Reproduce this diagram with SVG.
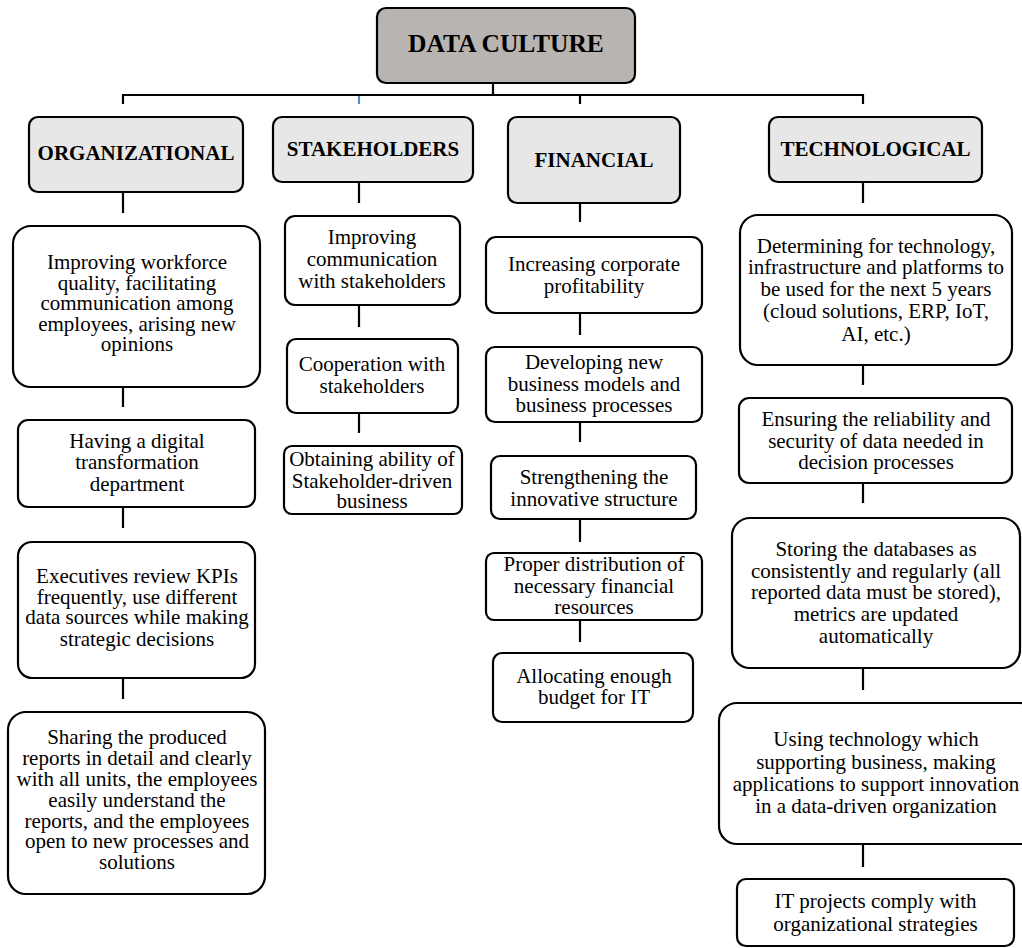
<svg xmlns="http://www.w3.org/2000/svg" width="1022" height="948" viewBox="0 0 1022 948">
<style>
.box{fill:#ffffff;stroke:#000;stroke-width:2.2}
.hdr{fill:#e7e7e7;stroke:#000;stroke-width:2.2}
.root{fill:#b8b4b2;stroke:#000;stroke-width:2.2}
.t{font-family:"Liberation Serif","Times New Roman",serif;font-size:21px;fill:#000;text-anchor:middle}
.h{font-family:"Liberation Serif","Times New Roman",serif;font-size:21px;font-weight:bold;fill:#000;text-anchor:middle}
.r{font-family:"Liberation Serif","Times New Roman",serif;font-size:25.5px;font-weight:bold;fill:#000;text-anchor:middle}
.c{stroke:#000;stroke-width:2.2;fill:none}
.g{stroke:#d6d6d6;stroke-width:2.2;fill:none}
</style>
<rect width="1022" height="948" fill="#ffffff"/>
<g id="connectors">
<line class="g" x1="493" y1="71" x2="493" y2="83"/>
<line class="c" x1="493" y1="83" x2="493" y2="95"/>
<polyline class="c" points="123,104 123,95 863,95 863,104"/>
<line class="c" x1="580" y1="95" x2="580" y2="104"/>
<line x1="359" y1="96" x2="359" y2="104" stroke="#5a8ac6" stroke-width="2.2"/>
<line class="g" x1="123" y1="180" x2="123" y2="192"/><line class="c" x1="123" y1="192" x2="123" y2="213"/>
<line class="g" x1="359" y1="170" x2="359" y2="182"/><line class="c" x1="359" y1="182" x2="359" y2="203"/>
<line class="g" x1="580" y1="191" x2="580" y2="203"/><line class="c" x1="580" y1="203" x2="580" y2="222"/>
<line class="g" x1="863" y1="170" x2="863" y2="182"/><line class="c" x1="863" y1="182" x2="863" y2="203"/>
<line class="g" x1="123" y1="374" x2="123" y2="387"/><line class="c" x1="123" y1="387" x2="123" y2="407"/>
<line class="g" x1="123" y1="494" x2="123" y2="507"/><line class="c" x1="123" y1="507" x2="123" y2="528"/>
<line class="g" x1="123" y1="665" x2="123" y2="678"/><line class="c" x1="123" y1="678" x2="123" y2="699"/>
<line class="g" x1="359" y1="292" x2="359" y2="305"/><line class="c" x1="359" y1="305" x2="359" y2="327"/>
<line class="g" x1="359" y1="400" x2="359" y2="413"/><line class="c" x1="359" y1="413" x2="359" y2="433"/>
<line class="g" x1="580" y1="300" x2="580" y2="313"/><line class="c" x1="580" y1="313" x2="580" y2="335"/>
<line class="g" x1="580" y1="409" x2="580" y2="422"/><line class="c" x1="580" y1="422" x2="580" y2="442"/>
<line class="g" x1="580" y1="506" x2="580" y2="519"/><line class="c" x1="580" y1="519" x2="580" y2="542"/>
<line class="g" x1="580" y1="607" x2="580" y2="620"/><line class="c" x1="580" y1="620" x2="580" y2="642"/>
<line class="g" x1="863" y1="352" x2="863" y2="365"/><line class="c" x1="863" y1="365" x2="863" y2="385"/>
<line class="g" x1="863" y1="470" x2="863" y2="483"/><line class="c" x1="863" y1="483" x2="863" y2="503"/>
<line class="g" x1="863" y1="655" x2="863" y2="668"/><line class="c" x1="863" y1="668" x2="863" y2="690"/>
<line class="g" x1="863" y1="831" x2="863" y2="844"/><line class="c" x1="863" y1="844" x2="863" y2="867"/>
</g>
<g id="root"><rect class="root" x="377" y="8" width="258" height="75" rx="9"/><text class="r" x="506" y="52">DATA CULTURE</text></g>
<g id="organizational"><rect class="hdr" x="29" y="117" width="214" height="75" rx="9"/><text class="h" x="136" y="160">ORGANIZATIONAL</text></g>
<g id="stakeholders"><rect class="hdr" x="273" y="117" width="200" height="65" rx="9"/><text class="h" x="373" y="156">STAKEHOLDERS</text></g>
<g id="financial"><rect class="hdr" x="508" y="117" width="172" height="86" rx="9"/><text class="h" x="594" y="167">FINANCIAL</text></g>
<g id="technological"><rect class="hdr" x="769" y="117" width="213" height="65" rx="9"/><text class="h" x="875.5" y="156">TECHNOLOGICAL</text></g>
<g id="org1"><rect class="box" x="13" y="226" width="247" height="161" rx="18"/>
<text class="t" x="137" y="269">Improving workforce</text><text class="t" x="137" y="290">quality, facilitating</text><text class="t" x="137" y="310">communication among</text><text class="t" x="137" y="331">employees, arising new</text><text class="t" x="137" y="351">opinions</text></g>
<g id="org2"><rect class="box" x="18" y="420" width="237" height="87" rx="10"/>
<text class="t" x="137" y="448">Having a digital</text><text class="t" x="137" y="469">transformation</text><text class="t" x="137" y="491">department</text></g>
<g id="org3"><rect class="box" x="18" y="542" width="237" height="136" rx="14"/>
<text class="t" x="137" y="583">Executives review KPIs</text><text class="t" x="137" y="604">frequently, use different</text><text class="t" x="137" y="624">data sources while making</text><text class="t" x="137" y="646">strategic decisions</text></g>
<g id="org4"><rect class="box" x="8" y="712" width="257" height="182" rx="18"/>
<text class="t" x="137" y="744">Sharing the produced</text><text class="t" x="137" y="765">reports in detail and clearly</text><text class="t" x="137" y="786">with all units, the employees</text><text class="t" x="137" y="807">easily understand the</text><text class="t" x="137" y="828">reports, and the employees</text><text class="t" x="137" y="848">open to new processes and</text><text class="t" x="137" y="869">solutions</text></g>
<g id="stk1"><rect class="box" x="285" y="216" width="175" height="89" rx="10"/>
<text class="t" x="372" y="244">Improving</text><text class="t" x="372" y="266">communication</text><text class="t" x="372" y="288">with stakeholders</text></g>
<g id="stk2"><rect class="box" x="287" y="339" width="171" height="74" rx="9"/>
<text class="t" x="372" y="371">Cooperation with</text><text class="t" x="372" y="393">stakeholders</text></g>
<g id="stk3"><rect class="box" x="284" y="446" width="178" height="68" rx="8"/>
<text class="t" x="372" y="466">Obtaining ability of</text><text class="t" x="372" y="488">Stakeholder-driven</text><text class="t" x="372" y="508">business</text></g>
<g id="fin1"><rect class="box" x="486" y="237" width="216" height="76" rx="10"/>
<text class="t" x="594" y="271">Increasing corporate</text><text class="t" x="594" y="293">profitability</text></g>
<g id="fin2"><rect class="box" x="486" y="347" width="216" height="75" rx="9"/>
<text class="t" x="594" y="369">Developing new</text><text class="t" x="594" y="391">business models and</text><text class="t" x="594" y="412">business processes</text></g>
<g id="fin3"><rect class="box" x="491" y="456" width="205" height="63" rx="9"/>
<text class="t" x="594" y="484">Strengthening the</text><text class="t" x="594" y="506">innovative structure</text></g>
<g id="fin4"><rect class="box" x="486" y="553" width="216" height="67" rx="8"/>
<text class="t" x="594" y="571">Proper distribution of</text><text class="t" x="594" y="593">necessary financial</text><text class="t" x="594" y="614">resources</text></g>
<g id="fin5"><rect class="box" x="493" y="653" width="200" height="69" rx="9"/>
<text class="t" x="594" y="683">Allocating enough</text><text class="t" x="594" y="704">budget for IT</text></g>
<g id="tech1"><rect class="box" x="740" y="215" width="272" height="150" rx="18"/>
<text class="t" x="876" y="253">Determining for technology,</text><text class="t" x="876" y="274">infrastructure and platforms to</text><text class="t" x="876" y="296">be used for the next 5 years</text><text class="t" x="876" y="318">(cloud solutions, ERP, IoT,</text><text class="t" x="876" y="341">AI, etc.)</text></g>
<g id="tech2"><rect class="box" x="739" y="398" width="273" height="85" rx="10"/>
<text class="t" x="876" y="426">Ensuring the reliability and</text><text class="t" x="876" y="448">security of data needed in</text><text class="t" x="876" y="469">decision processes</text></g>
<g id="tech3"><rect class="box" x="732" y="518" width="288" height="150" rx="18"/>
<text class="t" x="876" y="556">Storing the databases as</text><text class="t" x="876" y="578">consistently and regularly (all</text><text class="t" x="876" y="599">reported data must be stored),</text><text class="t" x="876" y="621">metrics are updated</text><text class="t" x="876" y="643">automatically</text></g>
<g id="tech4"><rect class="box" x="719" y="703" width="320" height="141" rx="18"/>
<text class="t" x="876" y="746">Using technology which</text><text class="t" x="876" y="769">supporting business, making</text><text class="t" x="876" y="791">applications to support innovation</text><text class="t" x="876" y="813">in a data-driven organization</text></g>
<g id="tech5"><rect class="box" x="737" y="879" width="277" height="67" rx="9"/>
<text class="t" x="875.5" y="908">IT projects comply with</text><text class="t" x="875.5" y="931">organizational strategies</text></g>
</svg>
